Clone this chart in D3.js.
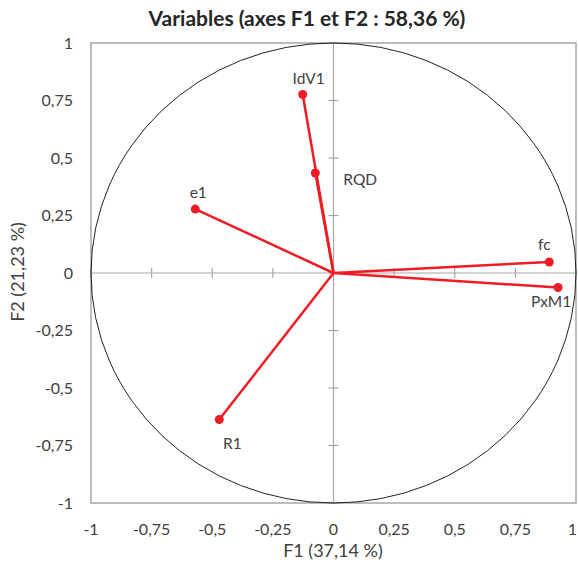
<!DOCTYPE html>
<html><head><meta charset="utf-8">
<script src="https://cdn.jsdelivr.net/npm/d3@7"></script>
<style>body{margin:0;background:#fff}text{font-family:Lato,"Open Sans",sans-serif}</style>
</head><body><svg id="c" width="578" height="572"></svg>
<script>
const variables = ["IdV1","RQD","e1","fc","PxM1","R1"];
const f1Values = [-0.127,-0.075,-0.570,0.890,0.926,-0.471];
const f2Values = [0.776,0.435,0.278,0.048,-0.063,-0.637];
const tickValues = [-1,-0.75,-0.5,-0.25,0,0.25,0.5,0.75,1];
const tickLabels = ["-1","-0,75","-0,5","-0,25","0","0,25","0,5","0,75","1"];
const labelPos = ["above","right","above","above","below","below"];

const svg = d3.select("#c");
const L=91,R=576,T=43,B=503;
const x = d3.scaleLinear().domain([-1,1]).range([L,R]);
const y = d3.scaleLinear().domain([-1,1]).range([B,T]);
const grey="#a6a6a6", txt="#404040", red="#ee1c25";

svg.append("rect").attr("x",L).attr("y",T).attr("width",R-L).attr("height",B-T)
  .attr("fill","none").attr("stroke",grey).attr("stroke-width",1.5);
svg.append("line").attr("x1",L).attr("x2",R).attr("y1",y(0)).attr("y2",y(0)).attr("stroke",grey).attr("stroke-width",1.2);
svg.append("line").attr("x1",x(0)).attr("x2",x(0)).attr("y1",T).attr("y2",B).attr("stroke",grey).attr("stroke-width",1.2);
tickValues.forEach(v=>{
  svg.append("line").attr("x1",x(v)).attr("x2",x(v)).attr("y1",y(0)-5).attr("y2",y(0)+5).attr("stroke",grey).attr("stroke-width",1.2);
  svg.append("line").attr("y1",y(v)).attr("y2",y(v)).attr("x1",x(0)-5).attr("x2",x(0)+5).attr("stroke",grey).attr("stroke-width",1.2);
});
tickValues.forEach((v,i)=>{
  const last = i===tickValues.length-1;
  svg.append("text").attr("x",last?577:x(v)).attr("y",535).attr("text-anchor",last?"end":"middle")
    .attr("font-size",16).attr("fill",txt).text(tickLabels[i]);
  svg.append("text").attr("x",73).attr("y",y(v)).attr("dy","0.35em").attr("text-anchor","end")
    .attr("font-size",16).attr("fill",txt).text(tickLabels[i]);
});
svg.append("ellipse").attr("cx",x(0)).attr("cy",y(0)).attr("rx",x(1)-x(0)).attr("ry",y(0)-y(1))
  .attr("fill","none").attr("stroke","#222").attr("stroke-width",1);
variables.forEach((n,i)=>{
  svg.append("line").attr("x1",x(0)).attr("y1",y(0)).attr("x2",x(f1Values[i])).attr("y2",y(f2Values[i]))
    .attr("stroke",red).attr("stroke-width",2.5);
});
variables.forEach((n,i)=>{
  const px=x(f1Values[i]), py=y(f2Values[i]);
  svg.append("circle").attr("cx",px).attr("cy",py).attr("r",4.5).attr("fill",red);
  const t=svg.append("text").attr("font-size",15.5).attr("fill",txt).text(n);
  const p=labelPos[i];
  if(p==="above") t.attr("x",px+ (n==="IdV1"?6:(n==="fc"?-5:3))).attr("y",py-(n==="fc"?12:11)).attr("text-anchor","middle");
  else if(p==="below") t.attr("x",px+(n==="R1"?13:-7)).attr("y",py+(n==="R1"?29:20)).attr("text-anchor","middle");
  else t.attr("x",px+28).attr("y",py+12).attr("text-anchor","start");
});
svg.append("text").attr("x",307).attr("y",26).attr("text-anchor","middle").attr("font-size",21)
  .attr("font-weight","bold").attr("fill","#262626").text("Variables (axes F1 et F2 : 58,36 %)");
svg.append("text").attr("x",333).attr("y",557).attr("text-anchor","middle").attr("font-size",18)
  .attr("fill",txt).text("F1 (37,14 %)");
svg.append("text").attr("transform","translate(24,272) rotate(-90)").attr("text-anchor","middle").attr("font-size",18)
  .attr("fill",txt).text("F2 (21,23 %)");
</script></body></html>
